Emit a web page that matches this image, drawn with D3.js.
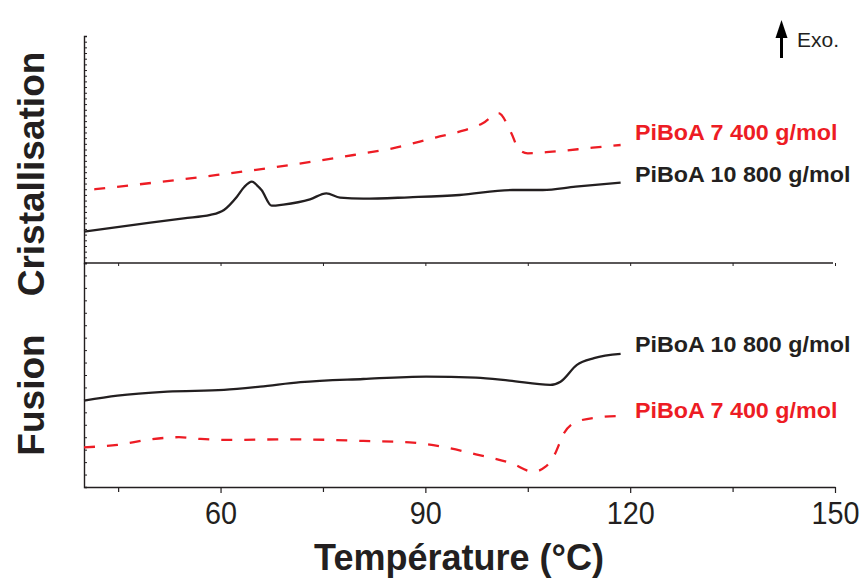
<!DOCTYPE html>
<html>
<head>
<meta charset="utf-8">
<script src="https://cdn.jsdelivr.net/npm/d3@7"></script>
<style>
  html, body { margin: 0; padding: 0; background: #ffffff; }
  svg { display: block; font-family: "Liberation Sans", Arial, Helvetica, sans-serif; }
</style>
</head>
<body>
<svg id="chart" width="860" height="583"></svg>
<script>
// ---------------- DATA ----------------
const xTicks = [60, 90, 120, 150];
const xMinorTicks = [45, 75, 105, 135];
const xLabel = "Température (°C)";
const panelLabels = ["Cristallisation", "Fusion"];
const exoLabel = "Exo.";
const seriesNames = ["PiBoA 7 400 g/mol", "PiBoA 10 800 g/mol"];

// Crystallisation (cooling) — PiBoA 10 800 g/mol
const crist10800T = [40, 47.3, 54.6, 58.5, 60.5, 62.4, 63.5, 64.6, 65.3, 66.0, 67.5, 69.2, 73.1, 75.5, 77.5, 80.9, 87.6, 95.0, 102.8, 107.2, 112.0, 118.6];
const crist10800V = [5.52, 6.70, 7.88, 8.46, 9.34, 11.68, 13.44, 14.33, 13.74, 12.86, 10.1, 10.3, 11.22, 12.28, 11.51, 11.33, 11.58, 11.98, 12.86, 12.86, 13.44, 14.15];

// Crystallisation — PiBoA 7 400 g/mol
const crist7400T = [41.5, 59.5, 79.5, 85.2, 91.6, 95.0, 98.4, 100.7, 102.6, 103.7, 105.0, 108.6, 114.5, 118.6];
const crist7400V = [12.99, 15.51, 19.03, 20.21, 22.15, 23.14, 24.62, 26.4, 22.85, 20.0, 19.33, 19.61, 20.32, 20.79];

// Fusion (heating) — PiBoA 10 800 g/mol
const fus10800T = [40, 44.9, 52.2, 60.5, 65.8, 71.7, 80.9, 90.1, 97.4, 102.3, 108.3, 109.8, 112.2, 114.7, 118.6];
const fus10800V = [6.94, 7.34, 7.66, 7.80, 8.06, 8.42, 8.68, 8.87, 8.79, 8.55, 8.20, 8.46, 9.81, 10.35, 10.69];

// Fusion — PiBoA 7 400 g/mol
const fus7400T = [40, 44.9, 49.8, 53.9, 57.1, 61.9, 69.2, 76.5, 80.9, 87.7, 92.5, 97.4, 102.6, 105.8, 107.6, 108.9, 110.3, 112.2, 115.4, 118.6];
const fus7400V = [3.19, 3.38, 3.83, 4.00, 3.86, 3.78, 3.83, 3.78, 3.70, 3.59, 3.24, 2.63, 1.91, 1.23, 1.63, 2.57, 4.32, 5.25, 5.60, 5.71];

// ---------------- CHART ----------------
const INK = "#231f20";
const RED = "#ed1c24";
const svg = d3.select("#chart");

const x = d3.scaleLinear().domain([40, 150]).range([84, 835]);
const yTop = d3.scaleLinear().domain([0, 40]).range([263, 36]);
const yBot = d3.scaleLinear().domain([0, 18]).range([487, 263]);

// Left minor tick axes
const topAxis = svg.append("g").attr("transform", `translate(${x(40)},0)`)
  .call(d3.axisRight(yTop).tickValues(d3.range(0, 41, 1)).tickSize(3).tickFormat(""));
const botAxis = svg.append("g").attr("transform", `translate(${x(40)},0)`)
  .call(d3.axisRight(yBot).tickValues(d3.range(0, 19, 1)).tickSize(3).tickFormat(""));
[topAxis, botAxis].forEach(g => {
  g.select(".domain").attr("stroke", INK).attr("stroke-width", 1.4);
  g.selectAll(".tick line").attr("stroke", INK).attr("stroke-width", 1);
});

// Middle divider line
const midAxis = svg.append("g").attr("transform", `translate(0,${yTop(0)})`)
  .call(d3.axisBottom(x).tickValues(xTicks.concat(xMinorTicks)).tickSize(3).tickFormat("").tickSizeOuter(0));
midAxis.select(".domain").attr("stroke", INK).attr("stroke-width", 1.3)
  .attr("d", `M${x(40)},0H${x(150) - 2}`);
midAxis.selectAll(".tick line").attr("stroke", INK);

// Bottom x axis
const xAxis = svg.append("g").attr("transform", `translate(0,${yBot(0)})`)
  .call(d3.axisBottom(x).tickValues(xTicks).tickSize(6).tickSizeOuter(0).tickPadding(8));
xAxis.select(".domain").attr("stroke", INK).attr("stroke-width", 1.4);
xAxis.selectAll(".tick line").attr("stroke", INK).attr("stroke-width", 1.2);
xAxis.selectAll(".tick text").attr("fill", INK).attr("font-size", 32)
  .attr("font-family", "'Liberation Sans', Arial, sans-serif")
  .attr("transform", "scale(0.9,1)");
svg.append("g").attr("transform", `translate(0,${yBot(0)})`)
  .call(d3.axisBottom(x).tickValues(xMinorTicks).tickSize(5).tickFormat(""))
  .call(g => g.select(".domain").remove())
  .selectAll(".tick line").attr("stroke", INK).attr("stroke-width", 1.2);

// Lines
const zip = (T, V) => T.map((t, i) => [t, V[i]]);
const lineTop = d3.line().x(d => x(d[0])).y(d => yTop(d[1])).curve(d3.curveMonotoneX);
const lineBot = d3.line().x(d => x(d[0])).y(d => yBot(d[1])).curve(d3.curveMonotoneX);

svg.append("path").attr("d", lineTop(zip(crist7400T, crist7400V)))
  .attr("fill", "none").attr("stroke", RED).attr("stroke-width", 2.3).attr("stroke-dasharray", "11,12");
svg.append("path").attr("d", lineTop(zip(crist10800T, crist10800V)))
  .attr("fill", "none").attr("stroke", INK).attr("stroke-width", 2.3);
svg.append("path").attr("d", lineBot(zip(fus10800T, fus10800V)))
  .attr("fill", "none").attr("stroke", INK).attr("stroke-width", 2.3);
svg.append("path").attr("d", lineBot(zip(fus7400T, fus7400V)))
  .attr("fill", "none").attr("stroke", RED).attr("stroke-width", 2.3).attr("stroke-dasharray", "11,12");

// Series labels
const labX = 635;
const labels = [
  { text: seriesNames[0], color: RED, y: 140 },
  { text: seriesNames[1], color: INK, y: 182 },
  { text: seriesNames[1], color: INK, y: 352 },
  { text: seriesNames[0], color: RED, y: 418 }
];
labels.forEach(l => {
  svg.append("text").attr("x", labX).attr("y", l.y)
    .attr("fill", l.color).attr("font-weight", "bold").attr("font-size", 22)
    .attr("transform", `translate(${labX},0) scale(1.06,1) translate(${-labX},0)`)
    .text(l.text);
});

// Axis titles
svg.append("text").attr("x", 459).attr("y", 570).attr("text-anchor", "middle")
  .attr("fill", INK).attr("font-weight", "bold").attr("font-size", 36).text(xLabel);
svg.append("text").attr("transform", "translate(44,174) rotate(-90)").attr("text-anchor", "middle")
  .attr("fill", INK).attr("font-weight", "bold").attr("font-size", 37).text(panelLabels[0]);
svg.append("text").attr("transform", "translate(44,395) rotate(-90)").attr("text-anchor", "middle")
  .attr("fill", INK).attr("font-weight", "bold").attr("font-size", 37).text(panelLabels[1]);

// Exo arrow
svg.append("line").attr("x1", 781.5).attr("x2", 781.5).attr("y1", 58).attr("y2", 34)
  .attr("stroke", "#000").attr("stroke-width", 3);
svg.append("path").attr("d", "M775.5,38 L781.5,20 L787.5,38 Z").attr("fill", "#000");
svg.append("text").attr("x", 797).attr("y", 47).attr("fill", INK).attr("font-size", 21).text(exoLabel);
</script>
</body>
</html>
